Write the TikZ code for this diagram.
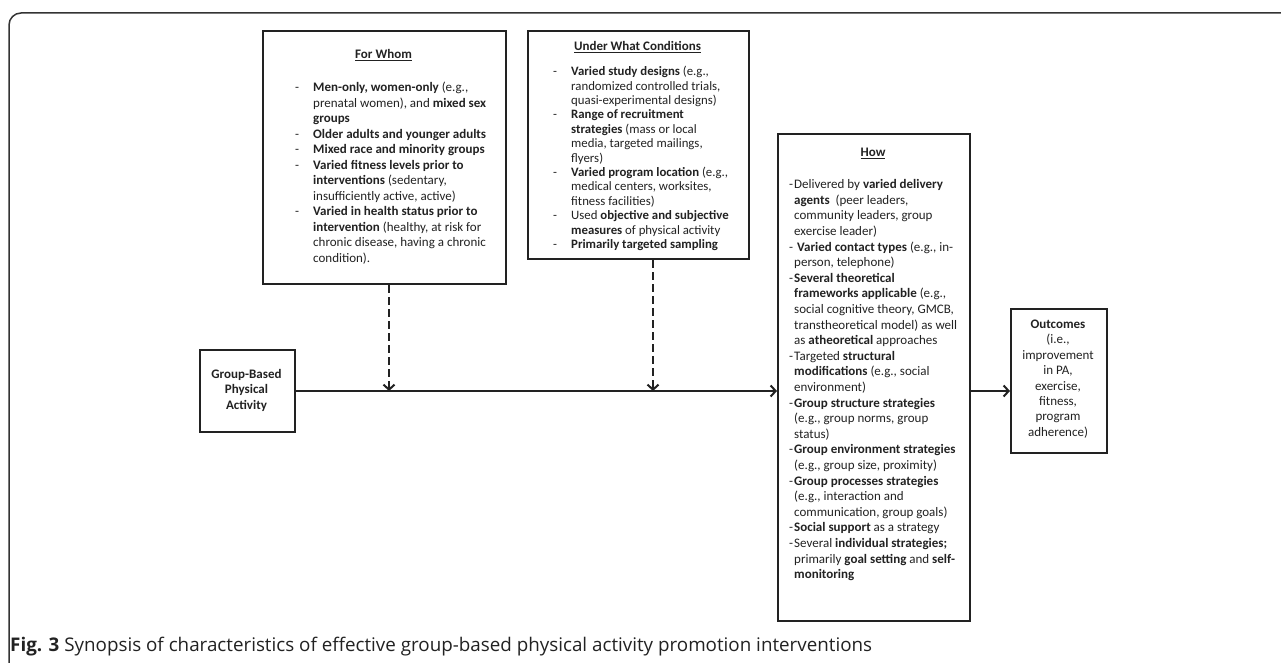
\documentclass[tikz,border=0pt]{standalone}
\usepackage{fontspec}
\setmainfont{Carlito}
\newfontfamily\capfont{Open Sans}
\usetikzlibrary{arrows.meta}
\definecolor{ink}{HTML}{222222}
\definecolor{framec}{HTML}{333333}
\newcommand\dl{\makebox[18pt][l]{-}}
\newcommand\il{\hspace*{18pt}}
\newcommand\hdl{\makebox[5pt][l]{-}}
\newcommand\hil{\hspace*{5pt}}
\begin{document}
\begin{tikzpicture}[x=1pt,y=-1pt,
  box/.style={draw=ink, line width=2pt, fill=white, inner sep=0pt, anchor=north west},
  txt/.style={inner sep=0pt, anchor=north west, align=left, text=ink, font=\fontsize{13}{15.6}\selectfont},
  ctxt/.style={inner sep=0pt, anchor=north, align=center, text=ink, font=\fontsize{13}{15.4}\selectfont},
  ttl/.style={inner sep=0pt, anchor=base, text=ink, font=\bfseries\fontsize{13}{15.5}\selectfont},
  conn/.style={draw=ink, line width=2pt, -{Straight Barb[length=5pt,width=11pt,line width=2pt]}},
  dconn/.style={conn, dash pattern=on 8pt off 4pt}]
\fill[white] (0,0) rectangle (1281,663);
\useasboundingbox (0,0) rectangle (1281,663);
\clip (0,0) rectangle (1281,663);
% outer frame
\draw[framec, line width=1.5pt, rounded corners=12pt] (9,680) -- (9,13) -- (1300,13);

% boxes
\node[box, minimum width=243pt, minimum height=253pt] (whom) at (262,30) {};
\node[box, minimum width=221pt, minimum height=228pt] (cond) at (527,30) {};
\node[box, minimum width=192pt, minimum height=487pt] (how) at (777,133) {};
\node[box, minimum width=95pt, minimum height=82pt] (gbpa) at (199,349) {};
\node[box, minimum width=96pt, minimum height=144pt] (out) at (1010,308) {};

% titles
\node[ttl] (whomt) at (383.5,59) {\underline{For Whom}};
\node[ttl] (condt) at (637.5,51) {\underline{Under What Conditions}};
\node[ttl] (howt) at (873,157) {\underline{How}};

% texts
\node[txt, font=\fontsize{13}{15.5}\selectfont] (whomx) at (295,80.6) {\strut\dl\textbf{Men-only, women-only} (e.g.,\\
\il prenatal women), and \textbf{mixed sex}\\
\il\textbf{groups}\\
\dl\textbf{Older adults and younger adults}\\
\dl\textbf{Mixed race and minority groups}\\
\dl\textbf{Varied fitness levels prior to}\\
\il\textbf{interventions} (sedentary,\\
\il insufficiently active, active)\\
\dl\textbf{Varied in health status prior to}\\
\il\textbf{intervention} (healthy, at risk for\\
\il chronic disease, having a chronic\\
\il condition).};

\node[txt, font=\fontsize{12.8}{14.4}\selectfont] (condx) at (553,65.4) {\strut\dl\textbf{Varied study designs} (e.g.,\\
\il randomized controlled trials,\\
\il quasi-experimental designs)\\
\dl\textbf{Range of recruitment}\\
\il\textbf{strategies} (mass or local\\
\il media, targeted mailings,\\
\il flyers)\\
\dl\textbf{Varied program location} (e.g.,\\
\il medical centers, worksites,\\
\il fitness facilities)\\
\dl Used \textbf{objective and subjective}\\
\il\textbf{measures} of physical activity\\
\dl\textbf{Primarily targeted sampling}};

\node[txt] (howx) at (789,177.6) {\strut\hdl Delivered by \textbf{varied delivery}\\
\hil\textbf{agents}\ \ (peer leaders,\\
\hil community leaders, group\\
\hil exercise leader)\\
\hdl\ \textbf{Varied contact types} (e.g., in-\\
\hil person, telephone)\\
\hdl\textbf{Several theoretical}\\
\hil\textbf{frameworks applicable} (e.g.,\\
\hil social cognitive theory, GMCB,\\
\hil transtheoretical model) as well\\
\hil as \textbf{atheoretical} approaches\\
\hdl Targeted \textbf{structural}\\
\hil\textbf{modifications} (e.g., social\\
\hil environment)\\
\hdl\textbf{Group structure strategies}\\
\hil(e.g., group norms, group\\
\hil status)\\
\hdl\textbf{Group environment strategies}\\
\hil(e.g., group size, proximity)\\
\hdl\textbf{Group processes strategies}\\
\hil(e.g., interaction and\\
\hil communication, group goals)\\
\hdl\textbf{Social support} as a strategy\\
\hdl Several \textbf{individual strategies;}\\
\hil primarily \textbf{goal setting} and \textbf{self-}\\
\hil\textbf{monitoring}};

\node[ctxt] (gbpax) at (246.5,367.6) {\strut\textbf{Group-Based}\\ \textbf{Physical}\\ \textbf{Activity}};
\node[ctxt] (outx) at (1058,317.6) {\strut\textbf{Outcomes}\\ (i.e.,\\ improvement\\ in PA,\\ exercise,\\ fitness,\\ program\\ adherence)};

% connectors
\draw[conn] (gbpa.east) -- (gbpa.east -| how.west);
\draw[conn] (how.east |- gbpa.east) -- (out.west |- gbpa.east);
\draw[dconn] ([xshift=4.5pt]whom.south) -- ([xshift=4.5pt]whom.south |- gbpa.east);
\draw[dconn] ([xshift=14.5pt]cond.south) -- ([xshift=14.5pt]cond.south |- gbpa.east);

% caption
\node[anchor=base west, inner sep=0pt, text=ink, font=\capfont\fontsize{18.8}{21}\selectfont] (cap) at (10,651) {\textbf{Fig. 3} Synopsis of characteristics of effective group-based physical activity promotion interventions};
\end{tikzpicture}
\end{document}
